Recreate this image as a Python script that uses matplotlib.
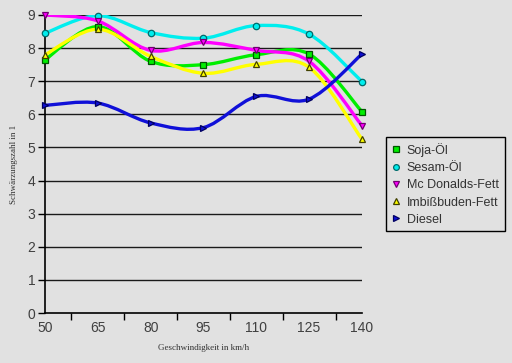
import numpy as np
import matplotlib
matplotlib.use("Agg")
import matplotlib.pyplot as plt
from matplotlib.path import Path
from matplotlib.patches import PathPatch

# data
speeds = ["50", "65", "80", "95", "110", "125", "140"]
soja = [7.65, 8.65, 7.6, 7.5, 7.8, 7.82, 6.08]
sesam = [8.45, 8.98, 8.47, 8.3, 8.68, 8.42, 6.99]
mcdonalds = [9.0, 8.82, 7.93, 8.17, 7.93, 7.6, 5.66]
imbiss = [7.8, 8.57, 7.75, 7.24, 7.51, 7.42, 5.25]
diesel = [6.27, 6.34, 5.74, 5.6, 6.54, 6.46, 7.82]

series = [
    ("Soja-Öl", soja, "#00ee00", "s", "#005500"),
    ("Sesam-Öl", sesam, "#00eeee", "o", "#006b6b"),
    ("Mc Donalds-Fett", mcdonalds, "#ff00ff", "v", "#700070"),
    ("Imbißbuden-Fett", imbiss, "#ffff00", "^", "#404000"),
    ("Diesel", diesel, "#1010d8", ">", "#000060"),
]

BG = "#e1e1e1"


def smooth_path(x, y):
    # Excel style smoothed line: cubic bezier through every point
    pts = np.column_stack([x, y]).astype(float)
    ext = np.vstack([pts[0], pts, pts[-1]])
    verts = [pts[0]]
    codes = [Path.MOVETO]
    for i in range(len(pts) - 1):
        p0, p1, p2, p3 = ext[i], ext[i + 1], ext[i + 2], ext[i + 3]
        c1 = p1 + (p2 - p0) / 6.0
        c2 = p2 - (p3 - p1) / 6.0
        verts += [c1, c2, p2]
        codes += [Path.CURVE4] * 3
    return Path(verts, codes)


fig = plt.figure(figsize=(5.12, 3.63), dpi=100, facecolor=BG)
ax = fig.add_axes([0.0879, 0.1377, 0.619, 0.821], facecolor=BG)

x = np.arange(len(speeds))
handles = []
for name, vals, color, marker, edge in series:
    patch = PathPatch(smooth_path(x, vals), fill=False, edgecolor=color,
                      lw=2.4, capstyle="round", joinstyle="round", zorder=3)
    ax.add_patch(patch)
    h, = ax.plot(x, vals, linestyle="none", marker=marker, markersize=4.6,
                 markerfacecolor=color, markeredgecolor=edge,
                 markeredgewidth=0.9, zorder=4, label=name, clip_on=False)
    handles.append(h)

ax.set_xlim(0, 6)
ax.set_ylim(0, 9)
ax.set_yticks(range(10))
ax.set_xticks(x)
ax.set_xticklabels(speeds)
ax.set_xticks([0, 0.5, 1.5, 2.5, 3.5, 4.5, 5.5], minor=True)
ax.tick_params(axis="x", which="major", length=0, pad=6)
ax.tick_params(axis="x", which="minor", length=5, width=1, color="black",
               direction="out")
ax.tick_params(axis="y", length=5, width=1, color="black", direction="out",
               pad=2)
for lab in ax.get_xticklabels() + ax.get_yticklabels():
    lab.set_fontfamily("Liberation Sans")
    lab.set_fontsize(10)
    lab.set_color("#404040")

for v in range(1, 10):
    ax.axhline(v, color="#1a1a1a", lw=1.0, zorder=1)

for s in ["top", "right"]:
    ax.spines[s].set_visible(False)
ax.spines["left"].set_linewidth(1.2)
ax.spines["bottom"].set_linewidth(1.2)

ax.set_xlabel("Geschwindigkeit in km/h", fontfamily="Liberation Serif",
              fontsize=6.5, color="#303030", labelpad=6)
ax.set_ylabel("Schwärzungszahl in 1", fontfamily="Liberation Serif",
              fontsize=6.5, color="#303030", labelpad=7)

leg = fig.legend(handles=handles, loc="upper left",
                 bbox_to_anchor=(380 / 512, 1 - 131 / 363),
                 prop={"family": "Liberation Sans", "size": 9},
                 frameon=True, fancybox=False, edgecolor="black",
                 facecolor=BG, framealpha=1, handlelength=0.7,
                 handletextpad=0.5, borderpad=0.45, labelspacing=0.42,
                 markerscale=0.9)
leg.get_frame().set_linewidth(1.0)
for t in leg.get_texts():
    t.set_color("#333333")

fig.savefig("out.png", dpi=100, facecolor=BG)
